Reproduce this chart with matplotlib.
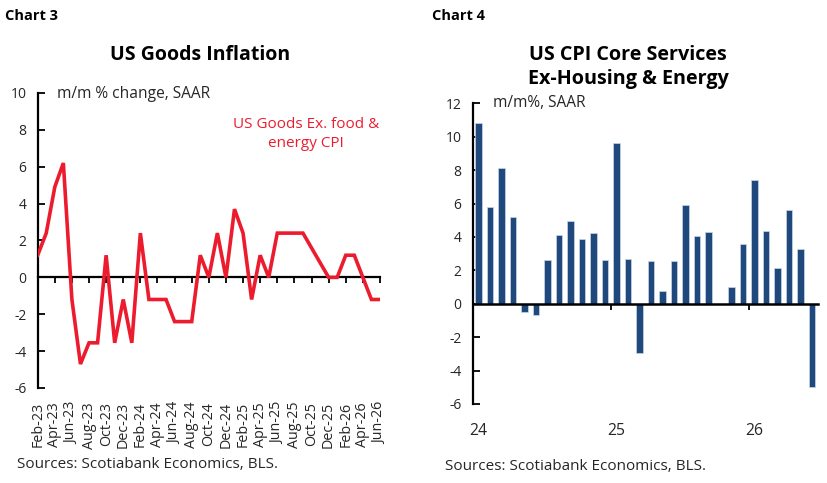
import matplotlib
matplotlib.use("Agg")
import matplotlib.pyplot as plt
import numpy as np

plt.rcParams['font.family'] = ['Open Sans', 'DejaVu Sans']

# ---- Chart 3 data: US Goods ex food & energy CPI, m/m % SAAR ----
goods_months = ["Feb-23", "Mar-23", "Apr-23", "May-23", "Jun-23", "Jul-23", "Aug-23", "Sep-23",
                "Oct-23", "Nov-23", "Dec-23", "Jan-24", "Feb-24", "Mar-24", "Apr-24", "May-24",
                "Jun-24", "Jul-24", "Aug-24", "Sep-24", "Oct-24", "Nov-24", "Dec-24", "Jan-25",
                "Feb-25", "Mar-25", "Apr-25", "May-25", "Jun-25", "Jul-25", "Aug-25", "Sep-25",
                "Oct-25", "Nov-25", "Dec-25", "Jan-26", "Feb-26", "Mar-26", "Apr-26", "May-26",
                "Jun-26"]
goods_values = [1.2, 2.4, 4.9, 6.2, -1.2, -4.7, -3.55, -3.55,
                1.2, -3.55, -1.2, -3.55, 2.4, -1.2, -1.2, -1.2,
                -2.4, -2.4, -2.4, 1.2, 0.0, 2.4, 0.0, 3.7,
                2.4, -1.2, 1.2, 0.0, 2.4, 2.4, 2.4, 2.4,
                None, 0.8, 0.0, 0.0, 1.2, 1.2, 0.0, -1.2,
                -1.2]
goods_yticks = [-6, -4, -2, 0, 2, 4, 6, 8, 10]

# ---- Chart 4 data: US CPI core services ex-housing & energy, m/m % SAAR ----
svc_months = ["Jan-24", "Feb-24", "Mar-24", "Apr-24", "May-24", "Jun-24", "Jul-24", "Aug-24",
              "Sep-24", "Oct-24", "Nov-24", "Dec-24", "Jan-25", "Feb-25", "Mar-25", "Apr-25",
              "May-25", "Jun-25", "Jul-25", "Aug-25", "Sep-25", "Oct-25", "Nov-25", "Dec-25",
              "Jan-26", "Feb-26", "Mar-26", "Apr-26", "May-26", "Jun-26"]
svc_values = [10.8, 5.8, 8.1, 5.2, -0.5, -0.65, 2.6, 4.1,
              4.95, 3.85, 4.25, 2.6, 9.6, 2.7, -2.95, 2.55,
              0.75, 2.55, 5.92, 4.06, 4.32, None, 1.0, 3.55,
              7.4, 4.35, 2.17, 5.6, 3.29, -5.0]
svc_year_labels = ["24", "25", "26"]
svc_yticks = [-6, -4, -2, 0, 2, 4, 6, 8, 10, 12]

RED = "#EC1C2E"
BLUE = "#1F497D"
TXT = "#262626"

fig = plt.figure(figsize=(8.28, 4.83), dpi=100)

# ================= Chart 3 =================
ax1 = fig.add_axes([0.0455, 0.1967, 0.4134, 0.6108])
x1 = np.arange(len(goods_months))
y1 = np.array([np.nan if v is None else v for v in goods_values])
m = ~np.isnan(y1)
ax1.plot(x1[m], y1[m], color=RED, lw=2.6, solid_joinstyle='miter', zorder=4)
ax1.set_xlim(0, len(goods_months) - 1)
ax1.set_ylim(-6, 10)
ax1.set_yticks(goods_yticks)
ax1.set_yticklabels([str(t) for t in goods_yticks], fontsize=10, color=TXT)
ax1.tick_params(axis='y', direction='in', length=5, width=1.3, pad=8, color='black')
for s in ['top', 'right', 'bottom']:
    ax1.spines[s].set_visible(False)
ax1.spines['left'].set_linewidth(1.6)
ax1.set_xticks(x1[::2])
ax1.set_xticklabels(goods_months[::2], rotation=90, fontsize=10.3, color=TXT)
ax1.tick_params(axis='x', length=0, pad=10)
sec1 = ax1.secondary_xaxis(6 / 16)
sec1.set_zorder(1)
sec1.spines['bottom'].set_linewidth(1.6)
sec1.set_xticks(x1[2::2])
sec1.set_xticklabels([])
sec1.tick_params(axis='x', direction='out', length=4, width=1.3)

fig.text(5 / 828, 1 - 16 / 483, "Chart 3", fontsize=10.5, fontweight='bold', va='center', ha='left')
fig.text(200 / 828, 1 - 55 / 483, "US Goods Inflation", fontsize=14, fontweight='bold',
         va='center', ha='center')
fig.text(57 / 828, 1 - 94 / 483, "m/m % change, SAAR", fontsize=11.2, color=TXT, va='center', ha='left')
fig.text(306 / 828, 1 - 134 / 483, "US Goods Ex. food &\nenergy CPI", fontsize=11, color=RED,
         va='center', ha='center', linespacing=1.35)
fig.text(17 / 828, 1 - 465 / 483, "Sources: Scotiabank Economics, BLS.", fontsize=11, color=TXT,
         va='center', ha='left')

# ================= Chart 4 =================
ax2 = fig.add_axes([0.5709, 0.1636, 0.4167, 0.6225])
x2 = np.arange(len(svc_months))
y2 = np.array([np.nan if v is None else v for v in svc_values])
ax2.bar(x2, y2, width=0.6, color=BLUE, edgecolor='#C9D6E8', linewidth=0.5, zorder=2)
ax2.set_xlim(-0.5, len(svc_months) - 0.5)
ax2.set_ylim(-6, 12)
ax2.set_yticks(svc_yticks)
ax2.set_yticklabels([str(t) for t in svc_yticks], fontsize=10, color=TXT)
ax2.tick_params(axis='y', direction='in', length=5, width=1.3, pad=8, color='black')
for s in ['top', 'right', 'bottom']:
    ax2.spines[s].set_visible(False)
ax2.spines['left'].set_linewidth(1.6)
ax2.set_xticks(x2[::12])
ax2.set_xticklabels(svc_year_labels, fontsize=11.3, color=TXT)
ax2.tick_params(axis='x', length=0, pad=14)
sec2 = ax2.secondary_xaxis(6 / 18)
sec2.set_zorder(5)
sec2.spines['bottom'].set_linewidth(1.8)
sec2.set_xticks(x2[12::12] - 0.5)
sec2.set_xticklabels([])
sec2.tick_params(axis='x', direction='out', length=4, width=1.3)

fig.text(432 / 828, 1 - 16 / 483, "Chart 4", fontsize=10.5, fontweight='bold', va='center', ha='left')
fig.text(628 / 828, 1 - 67 / 483, "US CPI Core Services\nEx-Housing & Energy", fontsize=14.2,
         fontweight='bold', va='center', ha='center', linespacing=1.25)
fig.text(493 / 828, 1 - 103 / 483, "m/m%, SAAR", fontsize=11.2, color=TXT, va='center', ha='left')
fig.text(445 / 828, 1 - 467 / 483, "Sources: Scotiabank Economics, BLS.", fontsize=11, color=TXT,
         va='center', ha='left')

fig.savefig("out.png", dpi=100, facecolor='white')
